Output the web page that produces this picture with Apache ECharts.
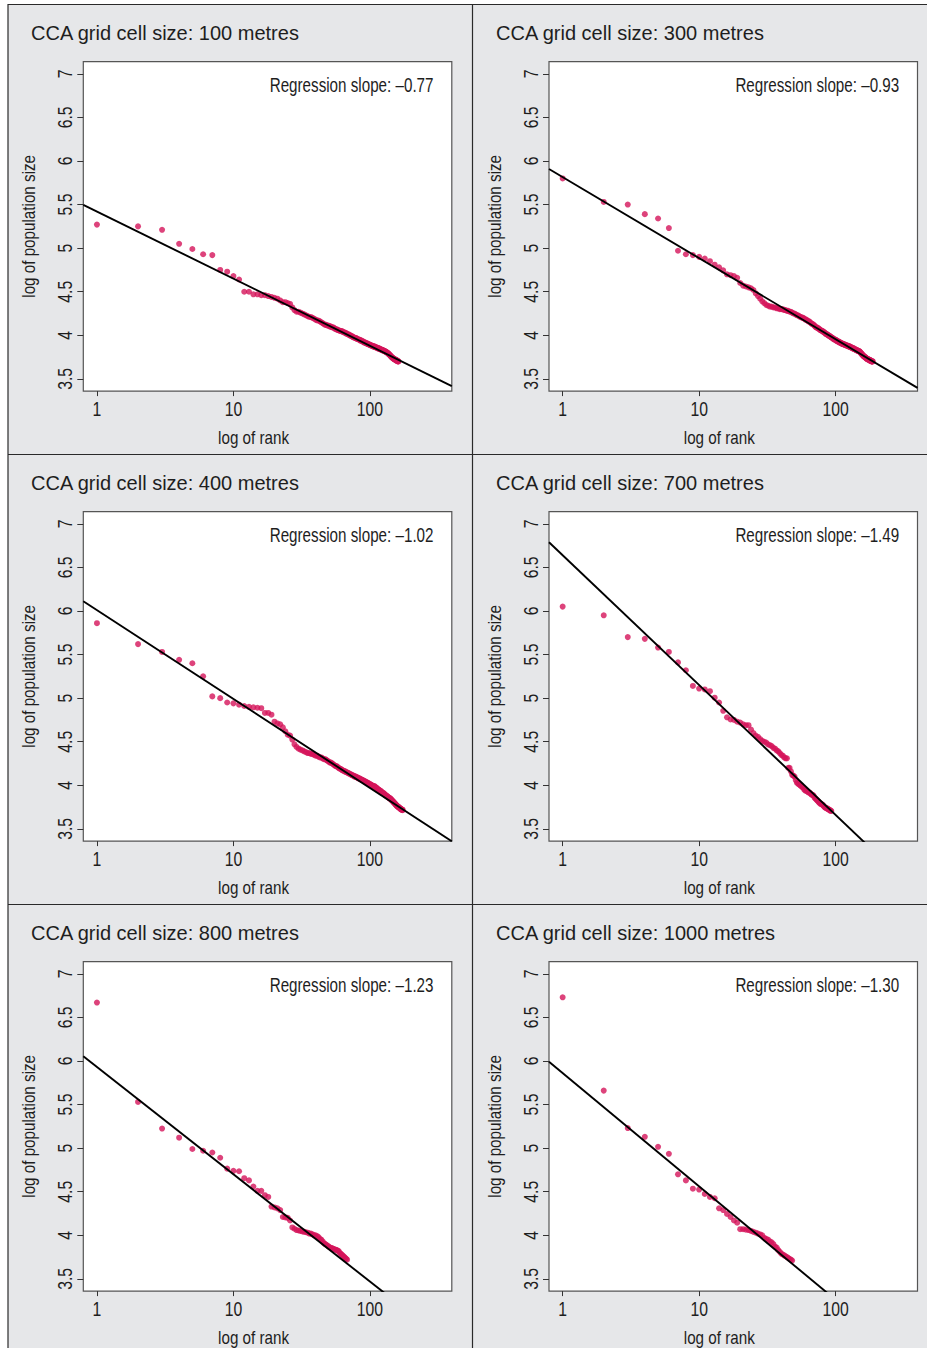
<!DOCTYPE html>
<html>
<head>
<meta charset="utf-8">
<script src="https://cdn.jsdelivr.net/npm/echarts@6/dist/echarts.min.js"></script>
<style>
html,body{margin:0;padding:0;background:#fff;}
#chart{width:927px;height:1348px;}
</style>
</head>
<body>
<div id="chart"></div>
<script>
// ---------- data ----------
const panelTitles = [
  'CCA grid cell size: 100 metres',
  'CCA grid cell size: 300 metres',
  'CCA grid cell size: 400 metres',
  'CCA grid cell size: 700 metres',
  'CCA grid cell size: 800 metres',
  'CCA grid cell size: 1000 metres'
];
const slopeLabels = [
  'Regression slope: \u20130.77',
  'Regression slope: \u20130.93',
  'Regression slope: \u20131.02',
  'Regression slope: \u20131.49',
  'Regression slope: \u20131.23',
  'Regression slope: \u20131.30'
];
const regSlope = [-0.77, -0.93, -1.02, -1.49, -1.23, -1.30];
const regIntercept = [5.42, 5.815, 6.01, 6.64, 5.93, 5.86];

const xTickValues = [1, 10, 100];
const yTickValues = [3.5, 4, 4.5, 5, 5.5, 6, 6.5, 7];
const xRange = [0.7943, 398.1];
const yRange = [3.36, 7.14];

// log of population size, by rank (rank 1 first)
const pop100 = [
  5.27, 5.25, 5.21, 5.05, 4.99, 4.93, 4.92, 4.75, 4.73, 4.68, 4.64, 4.50, 4.50, 4.47,
  4.47, 4.46, 4.46, 4.45, 4.44, 4.43, 4.42, 4.40, 4.38, 4.38,
  4.37, 4.36, 4.32, 4.29, 4.27, 4.27,
  4.26, 4.25, 4.24, 4.23, 4.22, 4.21, 4.21, 4.20, 4.19, 4.18,
  4.17, 4.17, 4.16, 4.15, 4.14, 4.13, 4.12, 4.12, 4.11, 4.11,
  4.10, 4.10, 4.09, 4.09, 4.08, 4.07, 4.07, 4.06, 4.06, 4.05, 4.05, 4.05,
  4.04, 4.04, 4.03, 4.03, 4.02, 4.02, 4.01, 4.01, 4.00, 4.00, 3.99, 3.99, 3.98, 3.98, 3.97, 3.97, 3.97, 3.96, 3.96, 3.955,
  3.95, 3.95, 3.94, 3.94, 3.94, 3.93, 3.93, 3.92, 3.92, 3.92, 3.91, 3.91, 3.91, 3.90, 3.90, 3.90, 3.89, 3.89, 3.89, 3.88, 3.88, 3.88, 3.88, 3.87, 3.87, 3.87,
  3.87, 3.86, 3.86, 3.86, 3.86, 3.85, 3.85, 3.85, 3.85, 3.84, 3.84, 3.84, 3.84, 3.83, 3.83, 3.83, 3.83, 3.82, 3.82, 3.82, 3.82, 3.81, 3.81, 3.81, 3.80, 3.80, 3.80,
  3.79, 3.79, 3.78, 3.78, 3.77, 3.77, 3.76, 3.76, 3.75, 3.75, 3.74, 3.74, 3.74, 3.73, 3.73, 3.73, 3.72, 3.72, 3.72, 3.72, 3.71, 3.71, 3.71, 3.71, 3.70, 3.70, 3.70
];
const pop300 = [
  5.80, 5.53, 5.50, 5.39, 5.34, 5.23, 4.97, 4.93, 4.92, 4.90, 4.88, 4.85, 4.81, 4.78, 4.745,
  4.70, 4.69, 4.68, 4.66, 4.60, 4.57, 4.56, 4.55, 4.54, 4.52,
  4.48, 4.45, 4.42, 4.39, 4.37, 4.35,
  4.34, 4.33, 4.33, 4.32, 4.32, 4.31, 4.31, 4.30, 4.30, 4.30,
  4.29, 4.29, 4.28, 4.28, 4.27, 4.27, 4.26, 4.25, 4.25, 4.24, 4.23, 4.23, 4.22,
  4.21, 4.21, 4.20, 4.20, 4.19, 4.18, 4.18, 4.17, 4.16, 4.16, 4.15, 4.14, 4.13, 4.13, 4.12, 4.11, 4.10, 4.09,
  4.09, 4.08, 4.08, 4.07, 4.06, 4.06, 4.05, 4.05, 4.04, 4.04, 4.03, 4.02, 4.02, 4.01, 4.01, 4.00, 4.00, 3.99, 3.99, 3.98, 3.98, 3.97, 3.97, 3.96,
  3.96, 3.95, 3.95, 3.95, 3.94, 3.94, 3.93, 3.93, 3.93, 3.92, 3.92, 3.92, 3.91, 3.91, 3.91, 3.90, 3.90, 3.90, 3.90, 3.89, 3.89, 3.89, 3.89, 3.88, 3.88, 3.88, 3.88, 3.88, 3.87, 3.87,
  3.87, 3.87, 3.86, 3.86, 3.86, 3.86, 3.85, 3.85, 3.85, 3.85, 3.84, 3.84, 3.84, 3.84, 3.83, 3.83, 3.83, 3.83, 3.82, 3.82, 3.82, 3.82, 3.82, 3.81,
  3.81, 3.80, 3.80, 3.79, 3.79, 3.78, 3.78, 3.77, 3.77, 3.76, 3.76, 3.76, 3.75, 3.75, 3.75, 3.74, 3.74, 3.74, 3.73, 3.73, 3.73, 3.73, 3.72, 3.72, 3.72, 3.72, 3.72, 3.71, 3.71, 3.71, 3.71, 3.71, 3.70, 3.70, 3.70, 3.70, 3.70
];
const pop400 = [
  5.86, 5.62, 5.53, 5.44, 5.40, 5.25, 5.02, 5.00, 4.95, 4.94, 4.925, 4.91, 4.90, 4.895, 4.89, 4.885, 4.83, 4.83, 4.81, 4.73, 4.71, 4.70, 4.665, 4.62, 4.58, 4.57, 4.525, 4.47, 4.44, 4.42,
  4.41, 4.40, 4.39, 4.38, 4.37, 4.37, 4.36, 4.36, 4.35,
  4.34, 4.34, 4.33, 4.32, 4.32, 4.31, 4.30, 4.30, 4.29, 4.28,
  4.27, 4.26, 4.26, 4.25, 4.24, 4.23, 4.22, 4.22, 4.21, 4.20, 4.19, 4.19, 4.18,
  4.17, 4.17, 4.16, 4.16, 4.15, 4.15, 4.14, 4.14, 4.13, 4.13, 4.12, 4.12, 4.11, 4.11, 4.10, 4.10, 4.10, 4.09, 4.09,
  4.08, 4.08, 4.08, 4.07, 4.07, 4.06, 4.06, 4.06, 4.05, 4.05, 4.04, 4.04, 4.04, 4.03, 4.03, 4.02, 4.02, 4.02, 4.01, 4.01, 4.00, 4.00, 4.00, 3.99, 3.99, 3.99, 3.99,
  3.98, 3.98, 3.97, 3.97, 3.96, 3.96, 3.95, 3.95, 3.94, 3.94, 3.94, 3.93, 3.93,
  3.92, 3.92, 3.91, 3.91, 3.91, 3.90, 3.90, 3.89, 3.89, 3.88, 3.88, 3.88, 3.87, 3.87, 3.86, 3.86, 3.86, 3.85, 3.85, 3.85, 3.84, 3.84,
  3.83, 3.83, 3.82, 3.82, 3.81, 3.81, 3.80, 3.80, 3.79, 3.79, 3.78, 3.78, 3.77, 3.77, 3.76, 3.76, 3.76, 3.75, 3.75, 3.75, 3.74, 3.74, 3.74, 3.73, 3.73, 3.73, 3.72, 3.72, 3.72, 3.72, 3.715
];
const pop700 = [
  6.05, 5.95, 5.70, 5.68, 5.58, 5.53, 5.41, 5.32, 5.14, 5.11, 5.10, 5.08, 5.005, 4.95, 4.855, 4.78, 4.755, 4.75, 4.73, 4.72, 4.70, 4.69, 4.69, 4.64, 4.60, 4.57, 4.555, 4.53, 4.51, 4.50,
  4.49, 4.47, 4.46, 4.45, 4.43, 4.42, 4.40, 4.39, 4.37, 4.35, 4.34, 4.32, 4.31, 4.31,
  4.20, 4.20, 4.16, 4.12, 4.11, 4.10, 4.06, 4.03, 4.02, 4.01, 4.00, 3.99, 3.98, 3.97, 3.95,
  3.94, 3.94, 3.93, 3.92, 3.92, 3.91, 3.90, 3.89, 3.89, 3.88, 3.86, 3.85, 3.84, 3.83, 3.82, 3.81, 3.80,
  3.79, 3.79, 3.78, 3.78, 3.77, 3.76, 3.75, 3.745, 3.74, 3.74, 3.73, 3.73, 3.72, 3.72, 3.71, 3.71, 3.705
];
const pop800 = [
  6.67, 5.53, 5.225, 5.12, 4.99, 4.97, 4.95, 4.89, 4.765, 4.74, 4.735, 4.655, 4.63, 4.56, 4.51, 4.51, 4.46, 4.44, 4.33, 4.32, 4.31, 4.29, 4.21, 4.205, 4.20, 4.17, 4.09, 4.075, 4.06, 4.055,
  4.05, 4.045, 4.04, 4.035, 4.03, 4.02, 4.02, 4.01, 4.00, 4.00, 3.99, 3.98, 3.96, 3.95,
  3.93, 3.91, 3.90, 3.89, 3.88, 3.87, 3.86, 3.855, 3.85, 3.845, 3.84, 3.835, 3.83, 3.825, 3.82,
  3.80, 3.79, 3.78, 3.77, 3.76, 3.75, 3.74, 3.73, 3.72
];
const pop1000 = [
  6.73, 5.66, 5.23, 5.13, 5.015, 4.935, 4.70, 4.63, 4.535, 4.525, 4.475, 4.44, 4.425, 4.31, 4.29, 4.245, 4.21, 4.17, 4.145,
  4.07, 4.07, 4.065, 4.06, 4.05, 4.04, 4.03, 4.02, 4.01, 4.00,
  3.97, 3.96, 3.95, 3.93, 3.92, 3.90, 3.87, 3.86, 3.83, 3.81, 3.79, 3.78, 3.77, 3.76, 3.75, 3.74, 3.73, 3.72, 3.71
];
const panelValues = [pop100, pop300, pop400, pop700, pop800, pop1000];

// ---------- layout ----------
const SANS = "'Liberation Sans', Arial, sans-serif";
const TEXT = '#1e1e1e';
const DOT = '#d4145a';
const colLeft = [83.3, 549];
const plotW = 368.5;
const rowTop = [61.6, 511.6, 961.6];
const plotH = 329.5;
const titleX = [31, 496];

const grids = [], xAxes = [], yAxes = [], series = [], graphics = [];

graphics.push({type:'rect', z:-100, shape:{x:8, y:4, width:930, height:1360}, style:{fill:'#e6e7e9'}});
graphics.push({type:'line', z:-90, shape:{x1:8, y1:4.5, x2:927, y2:4.5}, style:{stroke:'#2a2a2a', lineWidth:1.2}});
graphics.push({type:'line', z:-90, shape:{x1:8, y1:4, x2:8, y2:1348}, style:{stroke:'#2a2a2a', lineWidth:1.2}});
graphics.push({type:'line', z:-90, shape:{x1:472.5, y1:4, x2:472.5, y2:1348}, style:{stroke:'#2a2a2a', lineWidth:1.2}});
graphics.push({type:'line', z:-90, shape:{x1:8, y1:454.5, x2:927, y2:454.5}, style:{stroke:'#2a2a2a', lineWidth:1.2}});
graphics.push({type:'line', z:-90, shape:{x1:8, y1:904.5, x2:927, y2:904.5}, style:{stroke:'#2a2a2a', lineWidth:1.2}});

for (let i = 0; i < 6; i++) {
  const col = i % 2, row = Math.floor(i / 2);
  const left = colLeft[col], top = rowTop[row];
  grids.push({
    left: left, top: top, width: plotW, height: plotH,
    show: true, backgroundColor: '#ffffff', borderColor: '#555', borderWidth: 1.2,
    outerBoundsMode: 'none', containLabel: false
  });
  xAxes.push({
    type: 'log', logBase: 10, gridIndex: i, min: xRange[0], max: xRange[1],
    axisLine: {show: false}, splitLine: {show: false}, minorTick: {show: false},
    axisTick: {show: true, inside: false, length: 5, customValues: xTickValues, lineStyle: {color: '#333', width: 1}},
    axisLabel: {show: true, margin: 7, fontSize: 21, fontFamily: SANS, color: TEXT, customValues: xTickValues},
    name: 'log of rank', nameLocation: 'middle', nameGap: 37,
    nameTextStyle: {fontSize: 19, fontFamily: SANS, color: TEXT, padding: [0, 28, 0, 0]}
  });
  yAxes.push({
    type: 'value', gridIndex: i, min: yRange[0], max: yRange[1],
    axisLine: {show: false}, splitLine: {show: false},
    axisTick: {show: true, inside: false, length: 6, customValues: yTickValues, lineStyle: {color: '#333', width: 1}},
    axisLabel: {show: true, rotate: 90, margin: 8, fontSize: 21, fontFamily: SANS, color: TEXT, customValues: yTickValues},
    name: 'log of population size', nameLocation: 'middle', nameGap: 45,
    nameTextStyle: {fontSize: 19, fontFamily: SANS, color: TEXT}
  });
  const vals = panelValues[i];
  series.push({
    type: 'scatter', xAxisIndex: i, yAxisIndex: i, symbol: 'circle', symbolSize: 6,
    itemStyle: {color: DOT}, z: 2, silent: true,
    data: vals.map((v, k) => [k + 1, v])
  });
  const a = regIntercept[i], b = regSlope[i];
  series.push({
    type: 'line', xAxisIndex: i, yAxisIndex: i, symbol: 'none', clip: true, z: 3, silent: true,
    lineStyle: {color: '#000', width: 1.9},
    data: xRange.map(x => [x, a + b * Math.log10(x)])
  });
  graphics.push({type:'text', z:10, x: titleX[col], y: 33 + 450 * row,
    style:{text: panelTitles[i], font: '20px ' + SANS, fill: TEXT, textAlign: 'left', textVerticalAlign: 'middle'}});
  // condensed look via a horizontal scale about the right-aligned anchor
  graphics.push({type:'text', z:10, x: left + plotW - 18.3, y: top + 23.5, scaleX: 0.76, scaleY: 1,
    style:{text: slopeLabels[i], font: '20px ' + SANS, fill: TEXT, textAlign: 'right', textVerticalAlign: 'middle'}});
}

const chart = echarts.init(document.getElementById('chart'), null, {renderer: 'svg'});
chart.setOption({
  animation: false,
  backgroundColor: '#ffffff',
  grid: grids, xAxis: xAxes, yAxis: yAxes, series: series,
  graphic: {elements: graphics}
});

// The reference uses a condensed typeface; emulate it by narrowing the
// glyphs of the (real, selectable) axis text elements.
function condenseText() {
  document.querySelectorAll('#chart svg text').forEach(function (t) {
    const s = t.textContent || '';
    if (!s || s.indexOf('CCA') === 0 || s.indexOf('Regression') === 0 || t.getAttribute('data-cond')) return;
    const factor = s.indexOf('log of') === 0 ? 0.8 : 0.75;
    const len = t.getComputedTextLength();
    if (len > 0) {
      t.setAttribute('textLength', (len * factor).toFixed(2));
      t.setAttribute('lengthAdjust', 'spacingAndGlyphs');
      t.setAttribute('data-cond', '1');
    }
  });
}
condenseText();
chart.on('finished', condenseText);
setTimeout(condenseText, 0);
setTimeout(condenseText, 100);
</script>
</body>
</html>
